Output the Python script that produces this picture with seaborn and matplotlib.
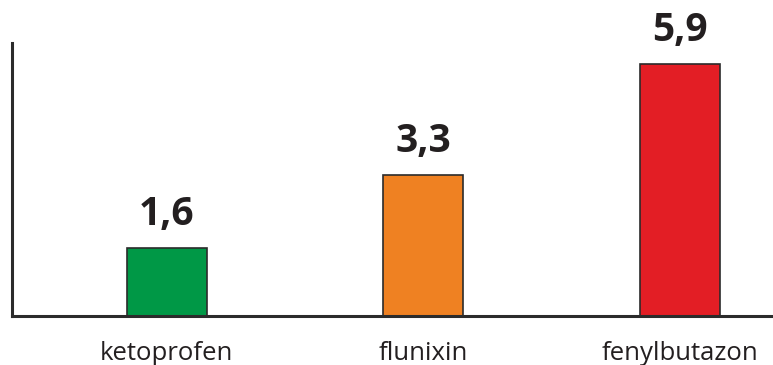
import matplotlib
matplotlib.use("Agg")
import matplotlib.pyplot as plt
import seaborn as sns
import pandas as pd

drugs = ["ketoprofen", "flunixin", "fenylbutazon"]
values = [1.6, 3.3, 5.9]
value_labels = ["1,6", "3,3", "5,9"]
colors = ["#009846", "#EF8122", "#E31E25"]

sns.set_theme(style="white")
plt.rcParams["font.family"] = ["Open Sans", "DejaVu Sans"]

ink = "#231F20"
df = pd.DataFrame({"drug": drugs, "value": values})

fig = plt.figure(figsize=(7.73, 3.65), dpi=100)
ax = fig.add_axes([12 / 773, 49 / 365, 761 / 773, 273 / 365])

sns.barplot(data=df, x="drug", y="value", hue="drug", palette=colors,
            saturation=1, width=0.312, edgecolor="#2b2b2b", linewidth=1.2,
            legend=False, ax=ax)

for i, (v, lab) in enumerate(zip(values, value_labels)):
    ax.annotate(lab, (i, v), xytext=(0, 10), textcoords="offset points",
                ha="center", va="bottom", fontsize=28, fontweight="bold", color=ink)

ax.set_xlim(-0.604, 2.363)
ax.set_ylim(0, 6.38)
ax.set_xlabel("")
ax.set_ylabel("")
ax.set_yticks([])
ax.tick_params(axis="x", length=0, pad=18, labelsize=18.5, labelcolor=ink)
for s in ["top", "right"]:
    ax.spines[s].set_visible(False)
for s in ["left", "bottom"]:
    ax.spines[s].set_color("#2b2b2b")
    ax.spines[s].set_linewidth(2.2)

fig.savefig("out.png", dpi=100)
